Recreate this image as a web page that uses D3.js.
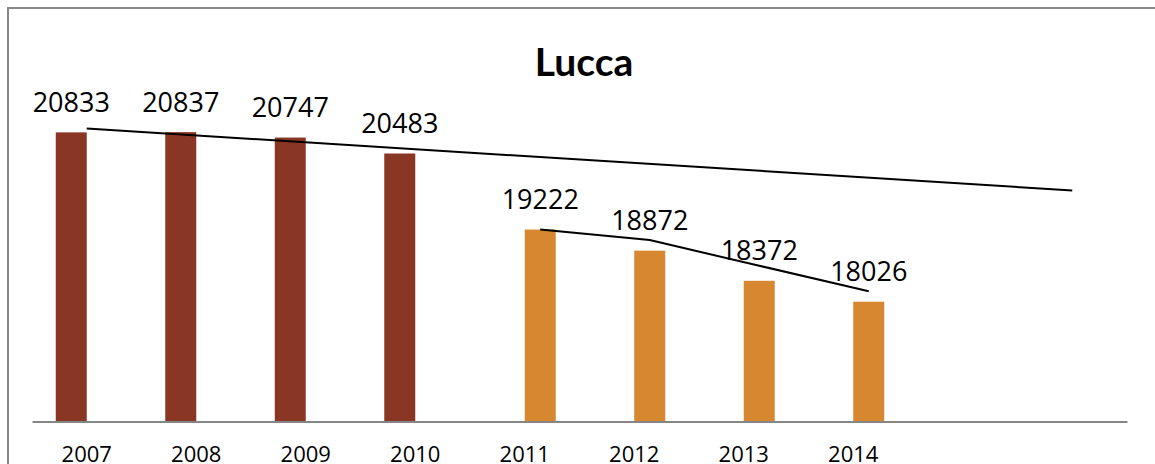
<!doctype html>
<html>
    <head>
        <title>Lucca</title>
        <script src="https://d3js.org/d3.v7.min.js"></script>
        <style>
            body { margin: 0; background: #fff; }
            text { font-family: 'Open Sans', Lato, sans-serif; fill: #000; }
            .title { font-family: Lato, sans-serif; font-size: 39px; font-weight: bold; text-anchor: middle; }
            .value { font-size: 27px; text-anchor: middle; }
            .tick text { font-size: 22px; }
        </style>
    </head>
    <body>
        <svg height="464" id="chart" width="1155"></svg>
        <script>
            // categories on the x axis (the last two are empty slots)
            const categories = ["2007", "2008", "2009", "2010", "2011", "2012", "2013", "2014", "2015", "2016"];
            const tickLabels = ["2007", "2008", "2009", "2010", "2011", "2012", "2013", "2014"];
            const seriesNames = ["first", "second"];
            // first series: 2007-2010, second: 2011-2014
            const firstYears = ["2007", "2008", "2009", "2010"];
            const firstValues = [20833, 20837, 20747, 20483];
            const secondYears = ["2011", "2012", "2013", "2014"];
            const secondValues = [19222, 18872, 18372, 18026];
            // linear trend of the first series, read at 2007 and at the last slot
            const trendYears = ["2007", "2016"];
            const trendValues = [20896, 19870];
            // line over the second series
            const avgYears = ["2011", "2012", "2013", "2014"];
            const avgValues = [19222, 19047, 18622, 18199];
            const yDomain = [16040, 21000];

            const colors = { first: "#8A3625", second: "#D6872F" };

            const chart = d3.select("#chart");

            chart.append("rect")
                .attr("x", 8).attr("y", 8)
                .attr("width", 1200).attr("height", 500)
                .attr("fill", "none")
                .attr("stroke", "#888")
                .attr("stroke-width", 2);

            chart.append("text")
                .attr("class", "title")
                .attr("x", 584).attr("y", 76)
                .text("Lucca");

            const x0 = d3.scaleBand()
                .domain(categories)
                .range([32, 1127])
                .paddingInner(0.434)
                .paddingOuter(0.217);
            const x1 = d3.scaleBand()
                .domain(seriesNames)
                .range([0, x0.bandwidth()]);
            const y = d3.scaleLinear()
                .domain(yDomain)
                .range([421.5, 122.3]);

            const bars = [];
            firstYears.forEach((yr, i) => bars.push({ year: yr, s: "first", v: firstValues[i] }));
            secondYears.forEach((yr, i) => bars.push({ year: yr, s: "second", v: secondValues[i] }));

            chart.append("g")
                .selectAll("rect")
                .data(bars)
                .enter()
                .append("rect")
                .attr("x", d => x0(d.year) + x1(d.s))
                .attr("y", d => y(d.v))
                .attr("width", x1.bandwidth())
                .attr("height", d => y(yDomain[0]) - y(d.v))
                .attr("fill", d => colors[d.s]);

            chart.append("g")
                .selectAll("text")
                .data(bars)
                .enter()
                .append("text")
                .attr("class", "value")
                .attr("x", d => x0(d.year) + x1(d.s) + x1.bandwidth() / 2)
                .attr("y", d => y(d.v) - 20.5)
                .text(d => d.v);

            const xAxis = d3.axisBottom(x0)
                .tickValues(tickLabels)
                .tickSize(0)
                .tickSizeOuter(0)
                .tickPadding(25);
            const axisG = chart.append("g")
                .attr("transform", "translate(0," + y(yDomain[0]) + ")")
                .call(xAxis);
            axisG.select(".domain").attr("stroke", "#868686").attr("stroke-width", 2);
            axisG.selectAll(".tick text").attr("font-family", null).attr("font-size", null);

            const mid = d => x0(d) + x0.bandwidth() / 2;
            const line = d3.line();

            chart.append("path")
                .attr("d", line(trendYears.map((yr, i) => [mid(yr), y(trendValues[i])])))
                .attr("fill", "none")
                .attr("stroke", "#000")
                .attr("stroke-width", 2);

            chart.append("path")
                .attr("d", line(avgYears.map((yr, i) => [x0(yr) + x1("second") + x1.bandwidth() / 2, y(avgValues[i])])))
                .attr("fill", "none")
                .attr("stroke", "#000")
                .attr("stroke-width", 2);
        </script>
    </body>
</html>
